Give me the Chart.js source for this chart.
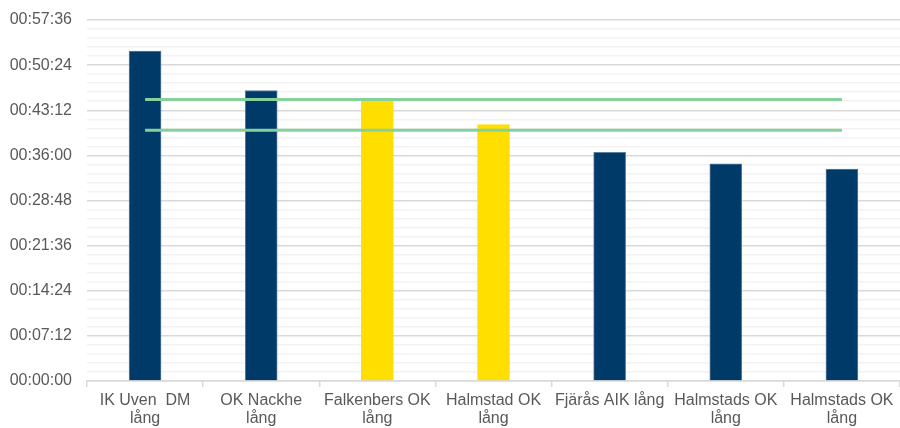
<!DOCTYPE html>
<html lang="sv">
<head>
    <meta charset="UTF-8">
    <title>Tider</title>
    <script src="https://cdn.jsdelivr.net/npm/chart.js"></script>
    <style>
        html, body {
            margin: 0;
            padding: 0;
            background: #fff;
        }
        .wrapper {
            width: 900px;
            height: 428px;
        }
    </style>
</head>
<body>
    <div class="wrapper">
        <canvas id="chart" width="900" height="428"></canvas>
    </div>
    <script>
        // kategorier (klubb / bana)
        const categories = [
            ['IK Uven  DM', 'lång'],
            ['OK Nackhe', 'lång'],
            ['Falkenbers OK', 'lång'],
            ['Halmstad OK', 'lång'],
            'Fjärås AIK lång',
            ['Halmstads OK', 'lång'],
            ['Halmstads OK', 'lång']
        ];

        // tider
        const times = ['00:52:38', '00:46:21', '00:44:41', '00:40:54', '00:36:29', '00:34:40', '00:33:48'];
        const highlighted = [false, false, true, true, false, false, false];

        // gränslinjer
        const upperLimit = '00:44:55';
        const lowerLimit = '00:40:00';

        // y-axel: 00:00:00 till 00:57:36, steg 00:07:12
        const yMax = '00:57:36';
        const yStep = '00:07:12';

        const NAVY = '#003a69';
        const YELLOW = '#ffdf00';
        const GREEN = '#86d09a';

        function toSec(t) {
            const p = t.split(':').map(Number);
            return p[0] * 3600 + p[1] * 60 + p[2];
        }

        function toTime(s) {
            s = Math.round(s);
            const h = Math.floor(s / 3600);
            const m = Math.floor((s % 3600) / 60);
            const sec = s % 60;
            return [h, m, sec].map(v => String(v).padStart(2, '0')).join(':');
        }

        const major = toSec(yStep);
        const minor = major / 5;

        const ctx = document.getElementById('chart').getContext('2d');
        new Chart(ctx, {
            data: {
                labels: categories,
                datasets: [
                    {
                        type: 'line',
                        data: categories.map(() => toSec(upperLimit)),
                        borderColor: GREEN,
                        borderWidth: 3,
                        pointRadius: 0,
                        order: 0
                    },
                    {
                        type: 'line',
                        data: categories.map(() => toSec(lowerLimit)),
                        borderColor: GREEN,
                        borderWidth: 3,
                        pointRadius: 0,
                        order: 0
                    },
                    {
                        type: 'bar',
                        data: times.map(toSec),
                        backgroundColor: highlighted.map(h => h ? YELLOW : NAVY),
                        borderColor: highlighted.map(h => h ? YELLOW : '#5d80a3'),
                        borderWidth: 1,
                        barThickness: 32,
                        order: 1
                    }
                ]
            },
            options: {
                responsive: false,
                animation: false,
                layout: {
                    padding: { top: 20, right: 0, left: 0, bottom: 0 }
                },
                plugins: {
                    legend: { display: false },
                    tooltip: { enabled: false }
                },
                scales: {
                    x: {
                        afterFit: scale => { scale.height = 47; },
                        grid: {
                            offset: true,
                            drawOnChartArea: false,
                            drawTicks: true,
                            tickLength: 6,
                            color: '#d9d9d9',
                            lineWidth: 1.5
                        },
                        border: { color: '#d9d9d9', width: 1.5 },
                        ticks: {
                            color: '#595959',
                            font: { family: 'Liberation Sans', size: 16, lineHeight: 1.15 },
                            padding: 4,
                            maxRotation: 0,
                            autoSkip: false
                        }
                    },
                    y: {
                        min: 0,
                        max: toSec(yMax),
                        afterFit: scale => {
                            scale.width = 87;
                            scale.paddingTop = 0;
                            scale.paddingBottom = 0;
                        },
                        afterBuildTicks: scale => {
                            const ticks = [];
                            for (let i = 0; i * minor <= toSec(yMax) + 0.01; i++) {
                                ticks.push({ value: i * minor });
                            }
                            scale.ticks = ticks;
                        },
                        border: { display: false },
                        grid: {
                            drawTicks: false,
                            color: c => Math.round(c.tick.value / minor) % 5 === 0 ? '#d9d9d9' : '#f2f2f2',
                            lineWidth: 1.5
                        },
                        ticks: {
                            color: '#595959',
                            font: { family: 'Liberation Sans', size: 16 },
                            padding: 15,
                            autoSkip: false,
                            callback: function (value) {
                                if (Math.round(value / minor) % 5 !== 0) return '';
                                return toTime(value);
                            }
                        }
                    }
                }
            }
        });
    </script>
</body>
</html>
